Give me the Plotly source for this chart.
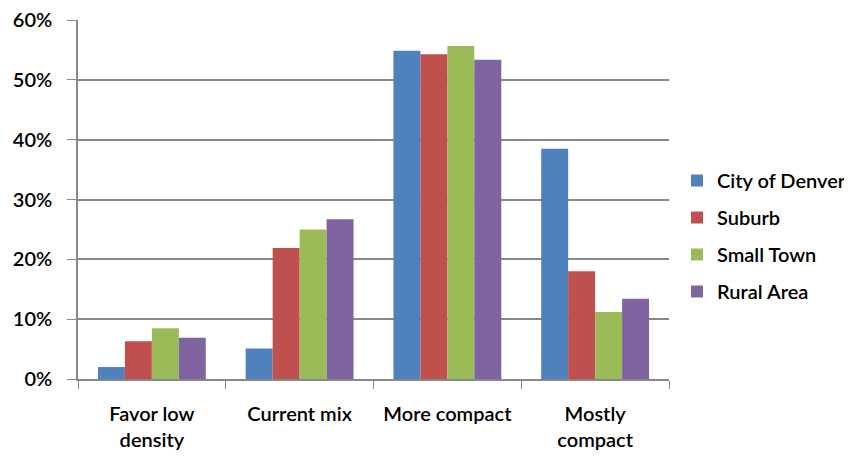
import plotly.graph_objects as go

categories = ["Favor low<br>density", "Current mix", "More compact", "Mostly<br>compact"]
series_names = ["City of Denver", "Suburb", "Small Town", "Rural Area"]
city = [0.020, 0.051, 0.549, 0.385]
suburb = [0.063, 0.219, 0.543, 0.180]
small_town = [0.085, 0.250, 0.557, 0.112]
rural = [0.069, 0.267, 0.534, 0.134]
colors = ["#4F81BD", "#C0504D", "#9BBB59", "#8064A2"]
y_ticks = [0, 0.1, 0.2, 0.3, 0.4, 0.5, 0.6]
y_labels = ["0%", "10%", "20%", "30%", "40%", "50%", "60%"]

fig = go.Figure()
for name, vals, col in zip(series_names, [city, suburb, small_town, rural], colors):
    fig.add_trace(go.Bar(x=categories, y=vals, name=name, marker_color=col,
                         marker_line_width=0, legendgroup=name))

W, H = 844, 450
font_family = "Lato, 'Open Sans', sans-serif"
fig.update_layout(
    width=W, height=H,
    margin=dict(l=70, r=183, t=12, b=79, autoexpand=False),
    plot_bgcolor="white", paper_bgcolor="white",
    barmode="group", bargap=0.27, bargroupgap=0,
    font=dict(family=font_family, size=20, color="black", weight=600),
    legend=dict(xref="container", yref="container", x=669/W, y=1-153/H,
                xanchor="left", yanchor="top", font=dict(size=20, weight=600),
                traceorder="grouped", tracegroupgap=8, itemwidth=30,
                bgcolor="rgba(0,0,0,0)"),
    showlegend=True,
)
fig.update_xaxes(showline=True, linecolor="#888888", linewidth=1.5,
                 ticks="outside", tickson="boundaries", ticklen=8, tickcolor="#888888",
                 ticklabelstandoff=16, showgrid=False)
fig.update_yaxes(range=[0, 0.6003], tickvals=y_ticks, ticktext=y_labels,
                 showline=True, linecolor="#888888", linewidth=1.5,
                 ticks="outside", ticklen=9, tickcolor="#888888",
                 showgrid=True, gridcolor="#888888", gridwidth=1.5,
                 zeroline=False, ticklabelstandoff=11, ticklabeloverflow="allow")

fig.write_html("out.html")
